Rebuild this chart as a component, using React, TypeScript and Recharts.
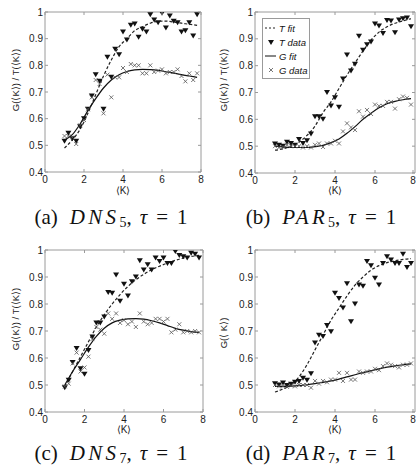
import React from "react";
import {
  ComposedChart,
  Line,
  ReferenceArea,
  Scatter,
  XAxis,
  YAxis,
} from "recharts";

const kValues = [
  1.0, 1.2, 1.4, 1.6, 1.8, 2.0, 2.2, 2.4, 2.6, 2.8, 3.0, 3.2, 3.4, 3.6, 3.8,
  4.0, 4.2, 4.4, 4.6, 4.8, 5.0, 5.2, 5.4, 5.6, 5.8, 6.0, 6.2, 6.4, 6.6, 6.8,
  7.0, 7.2, 7.4, 7.6, 7.8,
];
const fitK = [
  1.0, 1.4, 1.8, 2.2, 2.6, 3.0, 3.4, 3.8, 4.2, 4.6, 5.0, 5.4, 5.8, 6.2, 6.6,
  7.0, 7.4, 7.8,
];
const xTicks = [0, 2, 4, 6, 8];
const yTicks = [0.4, 0.5, 0.6, 0.7, 0.8, 0.9, 1];

// (a) DNS5
const dns5T = [
  0.515, 0.545, 0.525, 0.515, 0.57, 0.6, 0.635, 0.685, 0.765, 0.74, 0.635,
  0.83, 0.755, 0.86, 0.84, 0.925, 0.895, 0.95, 0.955, 0.905, 0.935, 0.925,
  0.99, 0.97, 0.96, 0.995, 0.94, 0.985, 0.965, 0.96, 0.925, 0.93, 0.96, 0.91,
  0.99,
];
const dns5G = [
  0.535, 0.535, 0.53, 0.505, 0.575, 0.595, 0.635, 0.68, 0.745, 0.73, 0.62,
  0.765, 0.68, 0.755, 0.755, 0.79, 0.775, 0.805, 0.8, 0.8, 0.77, 0.77, 0.8,
  0.775, 0.78, 0.785, 0.77, 0.775, 0.775, 0.785, 0.76, 0.74, 0.77, 0.745,
  0.77,
];
const dns5TFit = [
  0.49, 0.52, 0.56, 0.62, 0.69, 0.76, 0.82, 0.87, 0.9, 0.93, 0.945, 0.958,
  0.965, 0.966, 0.962, 0.958, 0.954, 0.95,
];
const dns5GFit = [
  0.52, 0.54, 0.58, 0.63, 0.675, 0.715, 0.745, 0.765, 0.777, 0.783, 0.785,
  0.784, 0.781, 0.776, 0.771, 0.765, 0.76, 0.755,
];

// (b) PAR5
const par5T = [
  0.508, 0.503, 0.5, 0.515, 0.51, 0.503, 0.525, 0.51, 0.52, 0.545, 0.61, 0.61,
  0.6, 0.7, 0.65, 0.68, 0.645, 0.75, 0.84, 0.78, 0.805, 0.91, 0.857, 0.878,
  0.888, 0.955, 0.948, 0.92, 0.968, 0.966, 0.923, 0.97, 0.975, 0.978, 0.945,
];
const par5G = [
  0.5, 0.495, 0.498, 0.505, 0.5, 0.5, 0.5, 0.495, 0.5, 0.495, 0.505, 0.51,
  0.497, 0.51, 0.51, 0.52, 0.51, 0.555, 0.585, 0.57, 0.56, 0.63, 0.61, 0.635,
  0.62, 0.655, 0.65, 0.65, 0.665, 0.665, 0.64, 0.675, 0.685, 0.68, 0.655,
];
const par5TFit = [
  0.485, 0.49, 0.5, 0.515, 0.54, 0.575, 0.625, 0.665, 0.715, 0.765, 0.81,
  0.855, 0.895, 0.925, 0.945, 0.958, 0.967, 0.975,
];
const par5GFit = [
  0.5, 0.497, 0.495, 0.495, 0.495, 0.498, 0.503, 0.513, 0.527, 0.548, 0.573,
  0.6, 0.623, 0.643, 0.658, 0.667, 0.673, 0.677,
];

// (c) DNS7
const dns7T = [
  0.49, 0.518, 0.583, 0.635, 0.56, 0.54, 0.628, 0.678, 0.73, 0.73, 0.752,
  0.843, 0.84, 0.907, 0.81, 0.873, 0.83, 0.882, 0.9, 0.96, 0.926, 0.945,
  0.926, 0.97, 0.957, 0.97, 0.95, 0.95, 0.994, 0.98, 0.975, 0.97, 0.988,
  0.984, 0.97,
];
const dns7G = [
  0.495, 0.505, 0.58, 0.62, 0.55, 0.565, 0.605, 0.67, 0.715, 0.705, 0.69,
  0.765, 0.745, 0.765, 0.73, 0.74, 0.725, 0.735, 0.715, 0.765, 0.735, 0.725,
  0.73, 0.745, 0.745, 0.735, 0.745, 0.695, 0.705, 0.725, 0.695, 0.7, 0.695,
  0.7, 0.695,
];
const dns7TFit = [
  0.495, 0.55, 0.605, 0.66, 0.715, 0.76, 0.8, 0.835, 0.865, 0.89, 0.91, 0.927,
  0.94, 0.952, 0.962, 0.97, 0.976, 0.98,
];
const dns7GFit = [
  0.5, 0.55, 0.595, 0.64, 0.68, 0.71, 0.73, 0.74, 0.745, 0.746, 0.744, 0.738,
  0.73, 0.72, 0.71, 0.703, 0.698, 0.695,
];

// (d) PAR7
const par7T = [
  0.505, 0.5, 0.507, 0.498, 0.503, 0.51, 0.513, 0.525, 0.518, 0.542, 0.656,
  0.684, 0.68, 0.72, 0.697, 0.84, 0.82, 0.785, 0.875, 0.734, 0.8, 0.87, 0.866,
  0.957, 0.942, 0.895, 0.87, 0.95, 0.975, 0.963, 0.95, 0.95, 0.984, 0.935,
  0.95,
];
const par7G = [
  0.5, 0.495, 0.495, 0.493, 0.498, 0.495, 0.5, 0.5, 0.5, 0.49, 0.515, 0.505,
  0.515, 0.51, 0.52, 0.52, 0.545, 0.515, 0.545, 0.52, 0.52, 0.55, 0.545, 0.55,
  0.55, 0.56, 0.555, 0.57, 0.58, 0.575, 0.57, 0.565, 0.575, 0.575, 0.58,
];
const par7TFit = [
  0.474, 0.485, 0.5, 0.53, 0.575, 0.63, 0.685, 0.74, 0.785, 0.83, 0.87, 0.9,
  0.925, 0.942, 0.953, 0.96, 0.965, 0.968,
];
const par7GFit = [
  0.495, 0.495, 0.496, 0.498, 0.501, 0.505, 0.51, 0.515, 0.522, 0.53, 0.538,
  0.546, 0.553, 0.56, 0.566, 0.571, 0.575, 0.578,
];

const FONT = '"Liberation Sans", Arial, sans-serif';
const SERIF = '"Liberation Serif", "Times New Roman", serif';
const AXIS_GREY = "#9a9a9a";

const pairs = (xs: number[], ys: number[]) =>
  xs.map((k, i) => ({ k, v: ys[i] }));

function Triangle(props: any) {
  const { cx, cy } = props;
  if (cx == null || cy == null) return null;
  return (
    <polygon
      points={`${cx - 3},${cy - 2.5} ${cx + 3},${cy - 2.5} ${cx},${cy + 2.5}`}
      fill="#111"
    />
  );
}

function Cross(props: any) {
  const { cx, cy } = props;
  if (cx == null || cy == null) return null;
  const s = 2;
  return (
    <path
      d={`M${cx - s},${cy - s}L${cx + s},${cy + s}M${cx - s},${cy + s}L${cx + s},${cy - s}`}
      stroke="#555"
      strokeWidth={0.8}
    />
  );
}

type PanelProps = {
  width: number;
  height: number;
  axisWidth: number;
  top: number;
  right: number;
  bottomAxis: number;
  labelOffset: number;
  yLabel: string;
  yLabelX: number;
  yLabelY: number;
  tData: number[];
  gData: number[];
  tFit: number[];
  gFit: number[];
};

function Panel(p: PanelProps) {
  const left = p.axisWidth;
  const rightEdge = p.width - p.right;
  const plotBottom = p.height - p.bottomAxis;

  const yTick = (props: any) => {
    const { y, payload } = props;
    const v = payload.value;
    return (
      <g>
        <line x1={left} x2={left + 3} y1={y} y2={y} stroke={AXIS_GREY} />
        <line x1={rightEdge - 3} x2={rightEdge} y1={y} y2={y} stroke={AXIS_GREY} />
        <text
          x={left - 2}
          y={y + 3.5}
          textAnchor="end"
          fontSize={10}
          fontFamily={FONT}
          fill="#222"
        >
          {v === 1 ? "1" : v.toFixed(1)}
        </text>
      </g>
    );
  };

  const xTick = (props: any) => {
    const { x, payload } = props;
    return (
      <g>
        <line x1={x} x2={x} y1={plotBottom} y2={plotBottom - 3} stroke={AXIS_GREY} />
        <line x1={x} x2={x} y1={p.top} y2={p.top + 3} stroke={AXIS_GREY} />
        <text
          x={x}
          y={plotBottom + 11}
          textAnchor="middle"
          fontSize={10}
          fontFamily={FONT}
          fill="#222"
        >
          {payload.value}
        </text>
      </g>
    );
  };

  const yLabel = () => (
    <text
      x={p.yLabelX}
      y={p.yLabelY}
      transform={`rotate(-90 ${p.yLabelX} ${p.yLabelY})`}
      textAnchor="middle"
      dominantBaseline="central"
      fontSize={9.5}
      fontFamily={FONT}
      fill="#222"
    >
      {p.yLabel}
    </text>
  );

  return (
    <ComposedChart
      width={p.width}
      height={p.height}
      margin={{ top: p.top, right: p.right, left: 0, bottom: 0 }}
    >
      <XAxis
        dataKey="k"
        type="number"
        domain={[0, 8]}
        ticks={xTicks}
        allowDataOverflow
        height={p.bottomAxis}
        axisLine={false}
        tickLine={false}
        tick={xTick}
        label={{
          value: "\u27e8K\u27e9",
          position: "insideBottom",
          offset: p.labelOffset,
          style: { fontSize: 10, fontFamily: FONT, fill: "#222" },
        }}
      />
      <YAxis
        type="number"
        domain={[0.4, 1]}
        ticks={yTicks}
        allowDataOverflow
        width={p.axisWidth}
        axisLine={false}
        tickLine={false}
        tick={yTick}
        label={{ content: yLabel }}
      />
      <ReferenceArea
        x1={0}
        x2={8}
        y1={0.4}
        y2={1}
        fill="none"
        fillOpacity={0}
        stroke={AXIS_GREY}
        strokeWidth={1}
      />
      <Line
        data={pairs(fitK, p.tFit)}
        dataKey="v"
        type="monotone"
        stroke="#222"
        strokeWidth={1.2}
        strokeDasharray="3 2"
        dot={false}
        activeDot={false}
        isAnimationActive={false}
      />
      <Scatter
        data={pairs(kValues, p.tData)}
        dataKey="v"
        shape={Triangle}
        isAnimationActive={false}
      />
      <Line
        data={pairs(fitK, p.gFit)}
        dataKey="v"
        type="monotone"
        stroke="#111"
        strokeWidth={1.2}
        dot={false}
        activeDot={false}
        isAnimationActive={false}
      />
      <Scatter
        data={pairs(kValues, p.gData)}
        dataKey="v"
        shape={Cross}
        isAnimationActive={false}
      />
    </ComposedChart>
  );
}

function Caption({ tag, name, sub, x, y }: { tag: string; name: string; sub: string; x: number; y: number }) {
  return (
    <div
      style={{
        position: "absolute",
        left: x - 110,
        top: y,
        width: 220,
        textAlign: "center",
        fontFamily: SERIF,
        fontSize: 21,
        lineHeight: "24px",
        color: "#111",
        whiteSpace: "nowrap",
      }}
    >
      ({tag})
      <i style={{ letterSpacing: "0.16em", marginLeft: 12 }}>{name}</i>
      <span style={{ fontSize: 14, verticalAlign: "-0.2em" }}>{sub}</span>,
      <i style={{ marginLeft: 8 }}>τ</i>
      <span style={{ margin: "0 9px" }}>=</span>1
    </div>
  );
}

function LegendBox() {
  const row = (icon: React.ReactNode, text: string) => (
    <div style={{ display: "flex", alignItems: "center", height: 14, whiteSpace: "nowrap" }}>
      <svg width={13} height={10} style={{ marginRight: 2, flex: "none" }}>
        {icon}
      </svg>
      <span style={{ fontStyle: "italic" }}>{text}</span>
    </div>
  );
  return (
    <div
      style={{
        position: "absolute",
        left: 262,
        top: 18,
        width: 48,
        height: 61,
        border: `1px solid ${AXIS_GREY}`,
        background: "#fff",
        fontFamily: FONT,
        fontSize: 9.5,
        color: "#111",
        padding: "2px 0 0 1px",
        boxSizing: "border-box",
        overflow: "hidden",
      }}
    >
      {row(<line x1={1} x2={12} y1={5} y2={5} stroke="#222" strokeDasharray="2 2" />, "T fit")}
      {row(<polygon points="4,3 10,3 7,8" fill="#111" />, "T data")}
      {row(<line x1={1} x2={12} y1={5} y2={5} stroke="#111" />, "G fit")}
      {row(<path d="M5,3L9,7M5,7L9,3" stroke="#555" strokeWidth={0.8} />, "G data")}
    </div>
  );
}

const yLabelFull = "G(\u27e8K\u27e9) / T(\u27e8K\u27e9)";

export default function App() {
  return (
    <div
      style={{
        position: "absolute",
        left: 0,
        top: 0,
        width: 417,
        height: 473,
        background: "#fff",
        overflow: "hidden",
      }}
    >
      <div style={{ position: "absolute", left: 0, top: 0 }}>
        <Panel width={207} height={200} axisWidth={45} top={12} right={6} bottomAxis={28}
          labelOffset={6} yLabel={yLabelFull} yLabelX={15} yLabelY={80}
          tData={dns5T} gData={dns5G} tFit={dns5TFit} gFit={dns5GFit} />
      </div>
      <div style={{ position: "absolute", left: 207, top: 0 }}>
        <Panel width={210} height={200} axisWidth={48} top={12} right={2} bottomAxis={27}
          labelOffset={6} yLabel={yLabelFull} yLabelX={16} yLabelY={80}
          tData={par5T} gData={par5G} tFit={par5TFit} gFit={par5GFit} />
      </div>
      <div style={{ position: "absolute", left: 0, top: 235 }}>
        <Panel width={207} height={200} axisWidth={45} top={15} right={4} bottomAxis={23}
          labelOffset={2} yLabel={yLabelFull} yLabelX={15} yLabelY={84}
          tData={dns7T} gData={dns7G} tFit={dns7TFit} gFit={dns7GFit} />
      </div>
      <div style={{ position: "absolute", left: 207, top: 235 }}>
        <Panel width={210} height={200} axisWidth={48} top={15} right={2} bottomAxis={23}
          labelOffset={2} yLabel={"G(\u27e8 K\u27e9)"} yLabelX={16} yLabelY={98}
          tData={par7T} gData={par7G} tFit={par7TFit} gFit={par7GFit} />
      </div>
      <LegendBox />
      <Caption tag="a" name="DNS" sub="5" x={111} y={205} />
      <Caption tag="b" name="PAR" sub="5" x={321} y={205} />
      <Caption tag="c" name="DNS" sub="7" x={111} y={441} />
      <Caption tag="d" name="PAR" sub="7" x={321} y={441} />
    </div>
  );
}
